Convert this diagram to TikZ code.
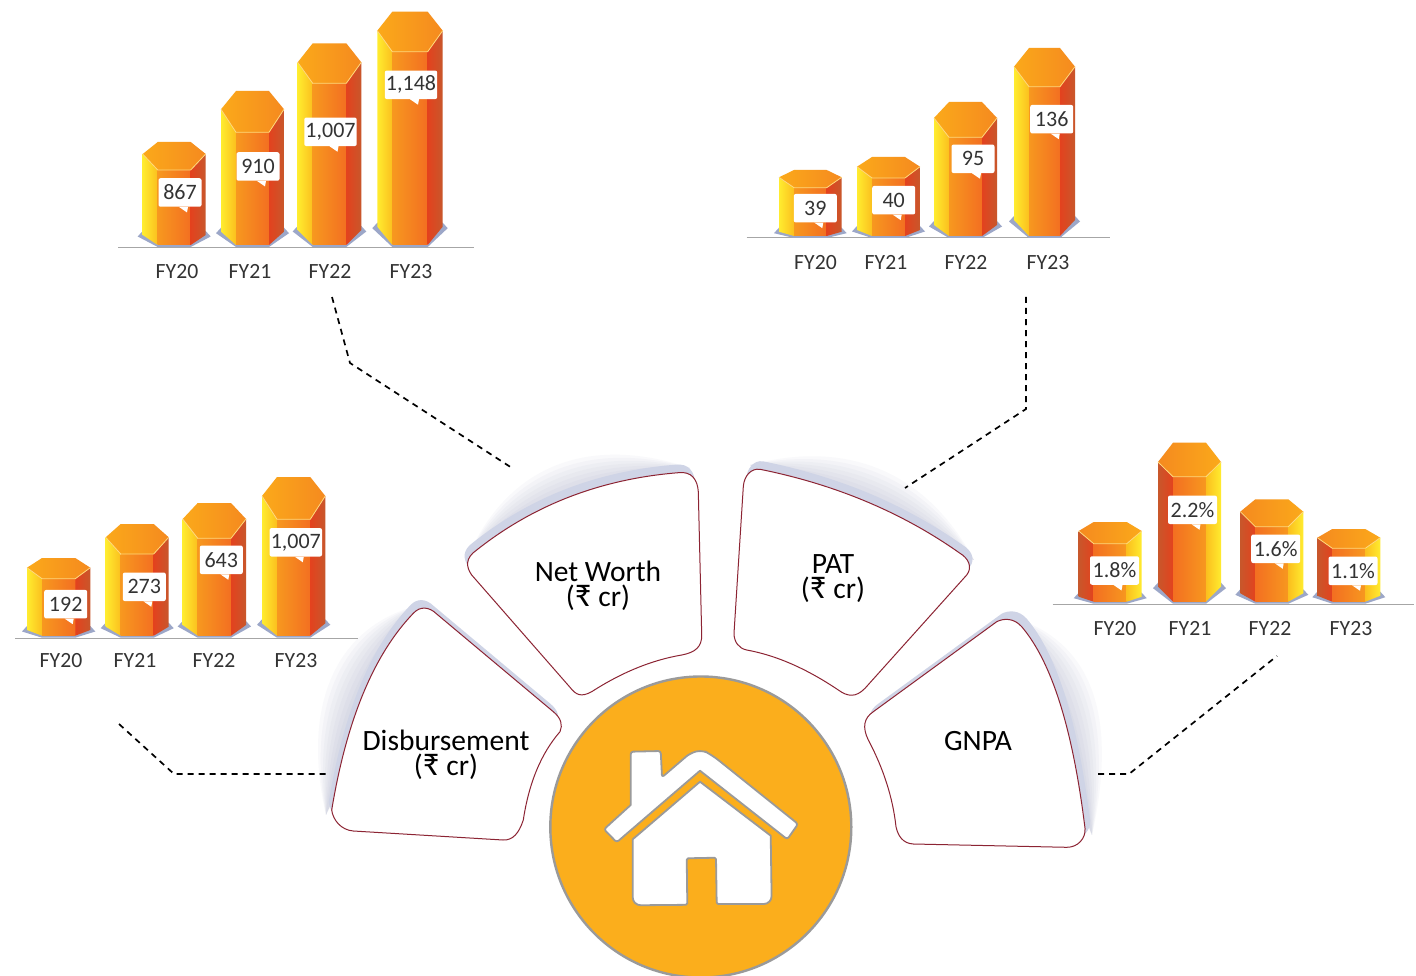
\documentclass[tikz,border=0pt]{standalone}
\usepackage{fontspec}
\setmainfont{Carlito}
\usetikzlibrary{calc}
\definecolor{bandc}{HTML}{CFD4E6}
\definecolor{blurc}{HTML}{8E94B8}
\definecolor{edgec}{HTML}{8C2433}
\definecolor{basec}{HTML}{9CA7C8}
\definecolor{axisc}{HTML}{A6A6A6}
\definecolor{txtc}{HTML}{333333}
\definecolor{housec}{HTML}{FBAE1C}
\definecolor{ringc}{HTML}{9A9A9A}
\definecolor{yA}{HTML}{FFEC2F}
\definecolor{yB}{HTML}{FBBF1E}
\definecolor{oA}{HTML}{F7981F}
\definecolor{oB}{HTML}{F36F21}
\definecolor{rA}{HTML}{E3421E}
\definecolor{rB}{HTML}{C8572B}
\definecolor{tA}{HTML}{FBA91A}
\definecolor{tB}{HTML}{FDBF26}
\definecolor{tC}{HTML}{F58A1F}
\tikzset{
 leftn/.style={left color=yA,right color=yB},
 frontn/.style={left color=oA,right color=oB},
 rightn/.style={left color=rA,right color=rB},
 topn/.style={left color=tA,middle color=tB,right color=tC},
 leftm/.style={left color=rB,right color=rA},
 frontm/.style={left color=oB,right color=oA},
 rightm/.style={left color=yB,right color=yA},
 topm/.style={left color=tC,middle color=tB,right color=tA},
 valuebox/.style={fill=white,rounded corners=2pt,minimum height=28.5pt,inner sep=0pt,text=txtc,font=\fontsize{22}{24}\selectfont},
 ticklabel/.style={text=txtc,inner sep=0pt,yshift=-.5pt,font=\fontsize{21.7}{24}\selectfont},
 axisline/.style={draw=axisc,line width=1pt},
 sector/.style={fill=white,draw=edgec,line width=1pt},
 band/.style={fill=bandc},
 glow/.style={fill=blurc,opacity=.05},
 sectortext/.style={text=black,inner sep=0pt,align=center,font=\fontsize{29.5}{25}\selectfont},
 leader/.style={draw=black,line width=1.7pt,dash pattern=on 6pt off 5pt},
 houseline/.style={fill=white,draw=ringc,line width=1.8pt,line join=round}
}
\newcommand{\rup}{{\fontsize{33}{25}\selectfont ₹}}
% L R top side front bottom bottomside n/m
\newcommand{\hexbar}[8]{%
 \fill[basec] (#1-5,#7+1.5) -- (#1,#7-4) -- (#2,#7-4) -- (#2+5,#7+1.5) -- (#2-15,#6+2) -- (#1+15,#6+2) -- cycle;
 \shade[left#8] (#1,#4) -- (#1+15,#5) -- (#1+15,#6) -- (#1,#7) -- cycle;
 \shade[front#8] (#1+15,#5) -- (#2-15,#5) -- (#2-15,#6) -- (#1+15,#6) -- cycle;
 \shade[right#8] (#2-15,#5) -- (#2,#4) -- (#2,#7) -- (#2-15,#6) -- cycle;
 \shade[top#8] (#1+15,#3) -- (#2-15,#3) -- (#2,#4) -- (#2-15,#5) -- (#1+15,#5) -- (#1,#4) -- cycle;
 \draw[line width=.8pt,color=tB!60!white] (#1,#4) -- (#1+15,#5) -- (#2-15,#5) -- (#2,#4);
}
% name x y width text
\newcommand{\callout}[5]{%
 \node[valuebox,minimum width=#4pt] (#1) at (#2,#3) {\raisebox{-1.5pt}{#5}};
 \fill[white] ([xshift=-1pt]#1.south) -- ([xshift=8pt]#1.south) -- ([xshift=7pt,yshift=-5.5pt]#1.south) -- cycle;
}
\def\pathNet{(476.7,550) .. controls (533.9,504.7) and (601.1,478.9) .. (678.3,472.7)
 .. controls (692,471) and (697.5,480) .. (698.3,491.7) -- (701.7,635)
 .. controls (702,647) and (695,652.5) .. (681.7,655)
 .. controls (651.7,660.1) and (621.7,672.4) .. (591.7,691.7)
 .. controls (581,697.5) and (576,695) .. (570,687.3) -- (471.7,575)
 .. controls (466,567) and (465,558) .. (476.7,550) -- cycle}
\def\pathDis{(331.7,810) .. controls (346.6,720) and (373.8,654.4) .. (413.3,613.3)
 .. controls (420,606) and (429,606.5) .. (436.7,614) -- (553.3,711.7)
 .. controls (561,718) and (563,725) .. (560,731.7)
 .. controls (541.2,753.3) and (528.9,782.8) .. (523.3,820)
 .. controls (519,833) and (513,840.5) .. (503,840) -- (353.3,831)
 .. controls (341,830) and (333,820) .. (331.7,810) -- cycle}
\def\pathPat{(760,469.3) .. controls (835.6,484.5) and (902.3,512.5) .. (960,553.3)
 .. controls (968,558) and (973,567) .. (966.7,575) -- (865,688.3)
 .. controls (856,697.5) and (848,697) .. (838.3,690)
 .. controls (806.7,668.7) and (776.1,655.3) .. (746.7,650)
 .. controls (739,648.5) and (734,642) .. (734,633.3) -- (743.3,486.7)
 .. controls (744,476) and (751,468) .. (760,469.3) -- cycle}
\def\pathGnp{(996.7,621.7) .. controls (1004,618) and (1014,618) .. (1021.7,626.7)
 .. controls (1051.7,662) and (1072.8,728.8) .. (1085,828.3)
 .. controls (1086,838) and (1078,847.5) .. (1066.7,847.3) -- (913.3,844)
 .. controls (903,843.5) and (898,836) .. (896,826.7)
 .. controls (892.8,797.7) and (883.6,768.8) .. (868.3,740)
 .. controls (862,727) and (864,718) .. (873.3,711.7) -- cycle}
\begin{document}
\begin{tikzpicture}[x=1pt,y=-1pt]
\useasboundingbox (0,0) rectangle (1416,976);
\fill[white] (0,0) rectangle (1416,976);

% soft glow behind the sectors: stacked crescents
\foreach \k in {12,18,24,30,36,42,48}{
 \fill[glow] (470,552) .. controls (533.9-.45*\k,504.7-.9*\k) and (601.1-.15*\k,478.9-.9*\k) .. (690,468) -- cycle;
 \fill[glow] (326,815) .. controls (346.6-.95*\k,720-.3*\k) and (373.8-.8*\k,654.4-.6*\k) .. (420,605) -- cycle;
 \fill[glow] (750,465) .. controls (835.6+.25*\k,484.5-.95*\k) and (902.3+.5*\k,512.5-.85*\k) .. (974,560) -- cycle;
 \fill[glow] (1005,615) .. controls (1051.7+.85*\k,662-.5*\k) and (1072.8+.95*\k,728.8-.3*\k) .. (1092,835) -- cycle;
}
% bands
\fill[band,shift={(-3,-8)}] \pathNet;
\fill[band,shift={(-3,-8)}] \pathDis;
\fill[band,shift={(3,-8)}] \pathPat;
\fill[band,shift={(5,-8)}] \pathGnp;
% sectors
\draw[sector] \pathNet;
\draw[sector] \pathDis;
\draw[sector] \pathPat;
\draw[sector] \pathGnp;
\node[sectortext] (net) at (598,586) {Net Worth\\(\rup{} cr)};
\node[sectortext] (dis) at (446,755) {Disbursement\\(\rup{} cr)};
\node[sectortext] (pat) at (833,579) {PAT\\(\rup{} cr)};
\node[sectortext] (gnp) at (978,741) {GNPA};

% centre disc and house
\draw[fill=housec,draw=ringc,line width=2.4pt] (700.8,827) circle (150.5);
\path[houseline,rounded corners=2.5pt] (630.7,751.7) -- (660.7,751) -- (662,777.3) -- (688,755) [rounded corners=8pt] -- (700,749) -- (712,755) [rounded corners=2.5pt] -- (798,824) -- (787.3,839.3) [sharp corners] -- (700,770.7) [rounded corners=2.5pt] -- (616.7,842.3) -- (604,829.3) [sharp corners] -- (630.7,805) [rounded corners=2.5pt] -- cycle;
\path[houseline,sharp corners] (700,781.7) -- (770.7,835.7) [rounded corners=8pt] -- (771.7,904) [rounded corners=1.5pt] -- (716.7,904) -- (716,857.7) -- (686.7,858.3) -- (687.3,904.8) [rounded corners=8pt] -- (632.7,905.3) [sharp corners] -- (632.7,839.3) -- cycle;

% leaders
\coordinate (n1) at (332,297); \coordinate (n2) at (350,363); \coordinate (n3) at (512,468);
\coordinate (p1) at (1026,297); \coordinate (p2) at (1026,409); \coordinate (p3) at (905,488);
\coordinate (d1) at (119,724); \coordinate (d2) at (174,774); \coordinate (d3) at (330,774);
\coordinate (g1) at (1098,774); \coordinate (g2) at (1129,774); \coordinate (g3) at (1277,656);
\draw[leader] (n1) -- (n2) -- (n3);
\draw[leader] (p1) -- (p2) -- (p3);
\draw[leader] (d1) -- (d2) -- (d3);
\draw[leader] (g1) -- (g2) -- (g3);

% Net Worth chart
\coordinate (nwa) at (118,247.7); \coordinate (nwb) at (474,247.7);
\draw[axisline] (nwa) -- (nwb);
\hexbar{142.7}{205.7}{142}{154}{170}{245}{235}{n}
\hexbar{221}{284}{91}{109.3}{132.3}{245}{231.7}{n}
\hexbar{297.7}{361.3}{43.3}{62.3}{83.3}{245}{230}{n}
\hexbar{377.3}{442.7}{11.7}{30.7}{51.7}{245}{226.7}{n}
\callout{nw1}{180}{192.5}{43}{867}
\callout{nw2}{258}{166.5}{43}{910}
\callout{nw3}{330.5}{131.8}{52.4}{1,007}
\callout{nw4}{411}{84.8}{52.4}{1,148}
\node[ticklabel] (nwt1) at (177,271) {FY20};
\node[ticklabel] (nwt2) at (250,271) {FY21};
\node[ticklabel] (nwt3) at (330,271) {FY22};
\node[ticklabel] (nwt4) at (411,271) {FY23};

% PAT chart
\coordinate (pa) at (746.7,237.7); \coordinate (pb) at (1110,237.7);
\draw[axisline] (pa) -- (pb);
\hexbar{779}{841.7}{170}{177.3}{187.7}{236}{231.7}{n}
\hexbar{857}{920}{157}{166.7}{178}{236}{230}{n}
\hexbar{934}{997}{102}{118}{137.3}{236}{225}{n}
\hexbar{1014}{1075}{48}{66.7}{86.7}{236}{220}{n}
\callout{pa1}{815.3}{208.2}{43}{39}
\callout{pa2}{893.7}{200.2}{43}{40}
\callout{pa3}{973}{158.8}{43}{95}
\callout{pa4}{1051.7}{119.2}{43}{136}
\node[ticklabel] (pat1) at (815.5,262) {FY20};
\node[ticklabel] (pat2) at (886,262) {FY21};
\node[ticklabel] (pat3) at (966,262) {FY22};
\node[ticklabel] (pat4) at (1048,262) {FY23};

% Disbursement chart
\coordinate (da) at (15,638.7); \coordinate (db) at (358,638.7);
\draw[axisline] (da) -- (db);
\hexbar{27}{90.3}{558}{567.7}{578.7}{635.7}{630}{n}
\hexbar{105.7}{168.7}{524}{537.3}{554}{635.7}{626.7}{n}
\hexbar{182.7}{246}{503}{519}{538.3}{635.7}{625}{n}
\hexbar{262}{325.3}{477}{496}{519.3}{635.7}{623.3}{n}
\callout{di1}{65.7}{604.2}{43}{192}
\callout{di2}{144.3}{586.8}{43}{273}
\callout{di3}{221.3}{559.8}{43}{643}
\callout{di4}{295.8}{542.3}{52.4}{1,007}
\node[ticklabel] (dit1) at (61,660) {FY20};
\node[ticklabel] (dit2) at (135,660) {FY21};
\node[ticklabel] (dit3) at (214,660) {FY22};
\node[ticklabel] (dit4) at (296,660) {FY23};

% GNPA chart
\coordinate (ga) at (1052.7,604); \coordinate (gb) at (1414,604);
\draw[axisline] (ga) -- (gb);
\hexbar{1078.7}{1141.7}{522}{531}{543.7}{601.7}{596.7}{m}
\hexbar{1158}{1221}{442.7}{462}{476.7}{601.7}{586.7}{m}
\hexbar{1240.3}{1303.3}{499.3}{511.7}{526.7}{601.7}{593.3}{m}
\hexbar{1317.3}{1380.3}{529}{537.7}{548.3}{601.7}{595.7}{m}
\callout{gn1}{1114.5}{570.5}{49}{1.8\%}
\callout{gn2}{1192.5}{509.8}{49}{2.2\%}
\callout{gn3}{1275.7}{548.8}{49}{1.6\%}
\callout{gn4}{1353}{570.8}{49}{1.1\%}
\node[ticklabel] (gnt1) at (1115,628) {FY20};
\node[ticklabel] (gnt2) at (1190,628) {FY21};
\node[ticklabel] (gnt3) at (1270,628) {FY22};
\node[ticklabel] (gnt4) at (1351,628) {FY23};
\end{tikzpicture}
\end{document}
